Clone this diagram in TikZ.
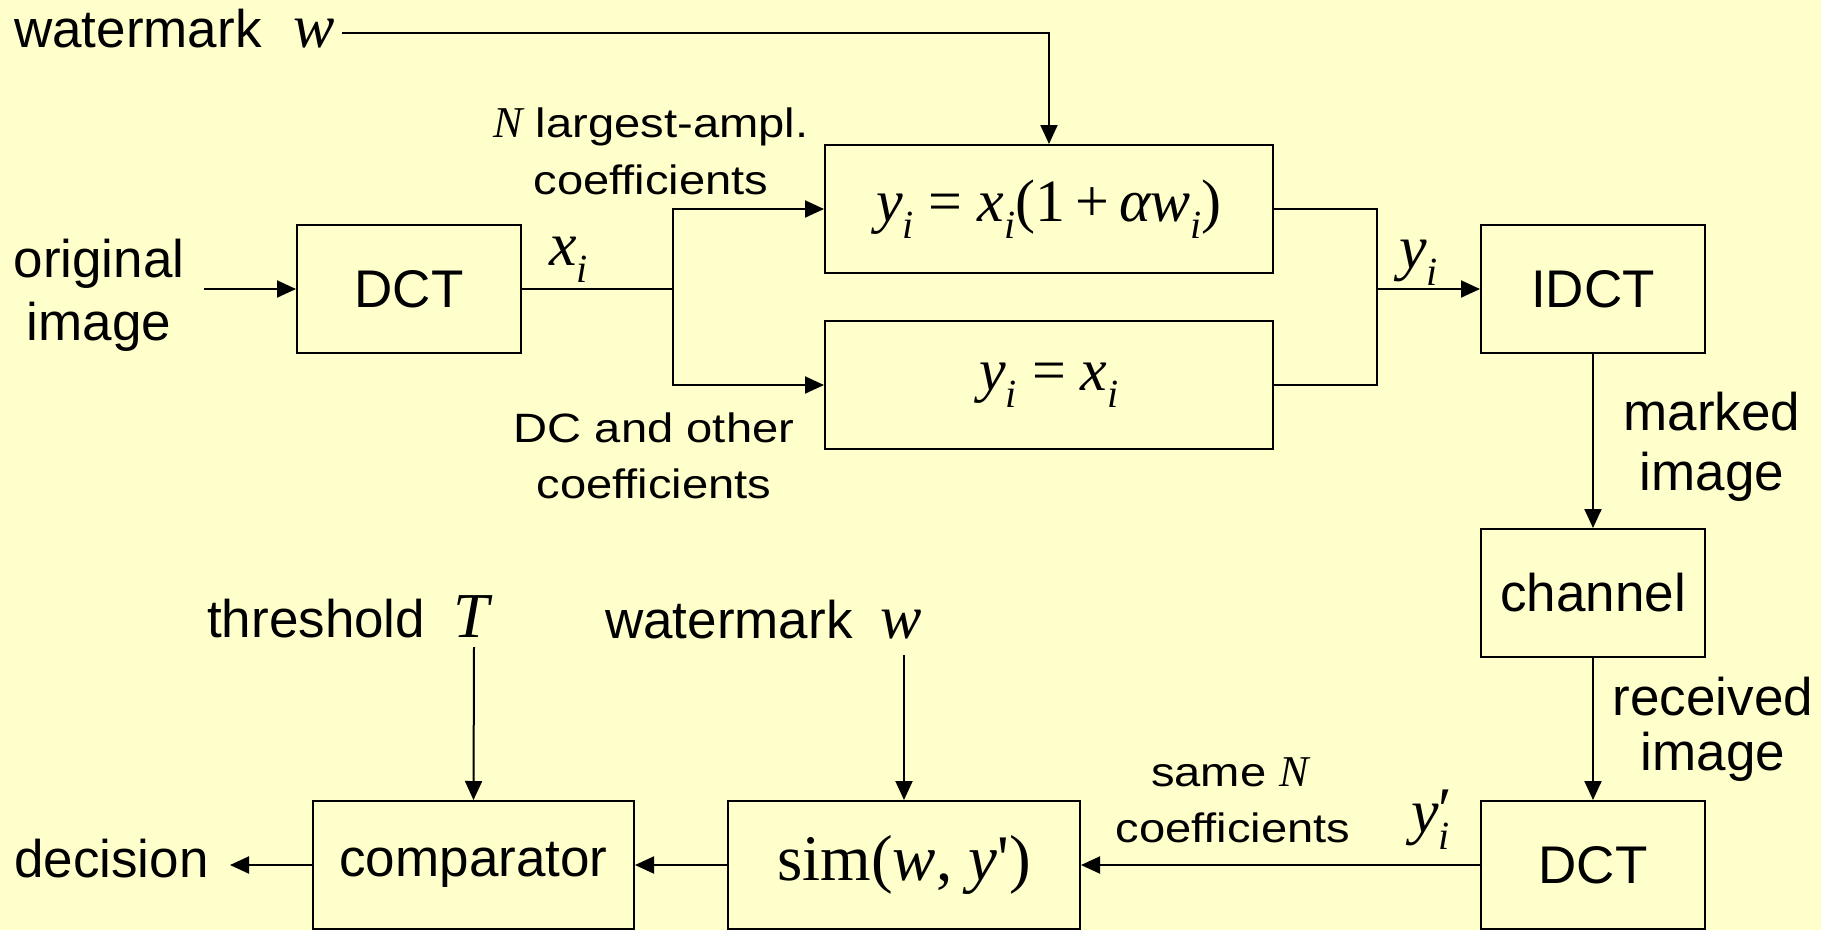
\documentclass[tikz,border=0pt]{standalone}
\usepackage{fontspec}
\setmainfont{Liberation Sans}
\newfontfamily\tms{Liberation Serif}
\newfontfamily\sansw[FakeStretch=1.15]{Liberation Sans}
\usetikzlibrary{arrows.meta}
\definecolor{bgcol}{HTML}{FFFFCC}
\newcommand\bigtxt{\fontsize{53}{63}\selectfont}
\newcommand\smtxt{\sansw\fontsize{41}{47}\selectfont}
\newcommand\fml{\tms\fontsize{60}{60}\selectfont}
\newcommand\fmlb{\tms\fontsize{65}{65}\selectfont}
\newcommand\fmll{\tms\fontsize{62}{62}\selectfont}
\newcommand\mv[1]{{\tms\itshape #1}}
\newcommand\sbi[1][40]{\raisebox{-0.28em}{\fontsize{#1}{#1}\selectfont\tms\itshape i}}
\tikzset{
  box/.style={draw, line width=2pt, inner sep=0pt},
  lbl/.style={inner sep=0pt, font=\bigtxt},
  slbl/.style={inner sep=0pt, font=\smtxt},
  wire/.style={line width=2pt},
  arr/.style={line width=2pt, -{Triangle[length=19pt,width=17pt]}},
}
\begin{document}
\begin{tikzpicture}[x=1pt,y=-1pt]
\fill[bgcol] (0,0) rectangle (1821,930);
\useasboundingbox (0,0) rectangle (1821,930);

% boxes
\node[box, minimum width=224pt, minimum height=128pt, font=\bigtxt] (dct1) at (409,289) {DCT};
\node[box, minimum width=448pt, minimum height=128pt, font=\fml] (emb) at (1049,209)
  {\mv{y}\sbi\ = \mv{x}\sbi(1\,+\,\mv{α}\mv{w}\sbi)};
\node[box, minimum width=448pt, minimum height=128pt, font=\fml] (copy) at (1049,385)
  {\mv{y}\sbi\ = \mv{x}\sbi};
\node[box, minimum width=224pt, minimum height=128pt, font=\bigtxt] (idct) at (1593,289) {IDCT};
\node[box, minimum width=224pt, minimum height=128pt, font=\bigtxt] (chan) at (1593,593) {channel};
\node[box, minimum width=224pt, minimum height=128pt, font=\bigtxt] (dct2) at (1593,865) {DCT};
\node[box, minimum width=352pt, minimum height=128pt, font=\fmlb] (sim) at (904,865)
  {sim(\mv{w}, \mv{y}')};
\node[box, minimum width=321pt, minimum height=128pt, font=\bigtxt] (comp) at (473.5,865) {comparator};

% labels
\node[lbl, anchor=base west] (wm1) at (14,47) {watermark\hspace{32pt}{\fmll\itshape w}};
\node[lbl, anchor=base] (orig1) at (99,277) {original};
\node[lbl, anchor=base] (orig2) at (99,340) {image};
\node[slbl, anchor=base] (nl1) at (651,137) {{\tms\itshape\fontsize{44}{44}\selectfont N} largest-ampl.};
\node[slbl, anchor=base] (nl2) at (651,194) {coefficients};
\node[lbl, anchor=base west, font=\fmll] (xi) at (549,265) {\mv{x}\sbi};
\node[slbl, anchor=base] (dc1) at (654,442) {DC and other};
\node[slbl, anchor=base] (dc2) at (654,498) {coefficients};
\node[lbl, anchor=base west, font=\fmll] (yi) at (1399,268) {\mv{y}\sbi};
\node[lbl, anchor=base] (mk1) at (1712,430) {marked};
\node[lbl, anchor=base] (mk2) at (1712,490) {image};
\node[lbl, anchor=base] (rc1) at (1713,715) {received};
\node[lbl, anchor=base] (rc2) at (1713,770) {image};
\node[slbl, anchor=base] (sn1) at (1230,786) {same {\tms\itshape\fontsize{44}{44}\selectfont N}};
\node[slbl, anchor=base] (sn2) at (1233,842) {coefficients};
\node[lbl, anchor=base west, font=\fmll] (yip) at (1411,832)
  {\mv{y}\rlap{\raisebox{0.02em}{\fontsize{62}{62}\selectfont\tms ′}}\sbi};
\node[lbl, anchor=base west] (thr) at (207,637) {threshold\hspace{28pt}{\tms\fontsize{64}{64}\selectfont\itshape T}};
\node[lbl, anchor=base west] (wm2) at (605,638) {watermark\hspace{28pt}{\fmll\itshape w}};
\node[lbl, anchor=base west] (dec) at (14,877) {decision};

% connector coordinates
\coordinate (wmstart) at (342,33);
\coordinate (origstart) at (204,289);
\coordinate (split) at (673,289);
\coordinate (join) at (1377,289);
\coordinate (tstart) at (474,647);
\coordinate (wstart) at (904,655);
\coordinate (dend) at (230,865);

% connectors
\draw[arr] (wmstart) -| (emb.north);
\draw[arr] (origstart) -- (dct1.west);
\draw[wire] (dct1.east) -- (split);
\draw[arr] (split) |- (emb.west);
\draw[arr] (split) |- (copy.west);
\draw[wire] (emb.east) -| (join);
\draw[wire] (copy.east) -| (join);
\draw[arr] (join) -- (idct.west);
\draw[arr] (idct.south) -- (chan.north);
\draw[arr] (chan.south) -- (dct2.north);
\draw[arr] (dct2.west) -- (sim.east);
\draw[arr] (sim.west) -- (comp.east);
\draw[arr] (comp.west) -- (dend);
\draw[arr] (tstart) -- (comp.north);
\draw[arr] (wstart) -- (sim.north);
\end{tikzpicture}
\end{document}
